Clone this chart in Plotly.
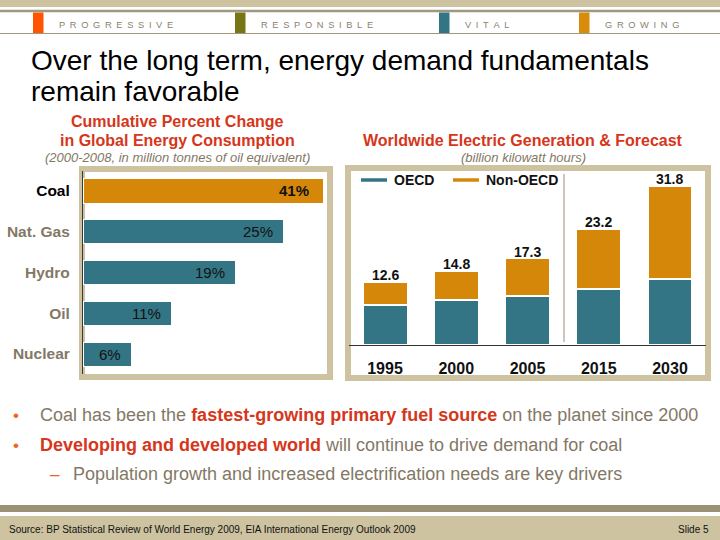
import plotly.graph_objects as go

# ---------------- data ----------------
fuels = ["Coal", "Nat. Gas", "Hydro", "Oil", "Nuclear"]
pct_change = [41, 25, 19, 11, 6]

years = ["1995", "2000", "2005", "2015", "2030"]
oecd = [8.0, 9.0, 9.8, 11.2, 13.2]
non_oecd = [4.6, 5.8, 7.5, 12.0, 18.6]
totals = [12.6, 14.8, 17.3, 23.2, 31.8]
series_names = ["OECD", "Non-OECD"]

header_words = ["PROGRESSIVE", "RESPONSIBLE", "VITAL", "GROWING"]

# ---------------- style ----------------
W, H = 720, 540
TAN = "#CDC3A0"
GRAYLINE = "#A0977F"
TEAL = "#337584"
ORANGE = "#D5870A"
RED = "#D6361A"
TXTGRAY = "#837865"
FONT = "Liberation Sans, Arial, sans-serif"
NARROW = "Liberation Sans Narrow, Arial Narrow, Liberation Sans, Arial, sans-serif"
header_colors = ["#FF5500", "#767619", "#337584", "#D98B0C"]
X_MAX = 30  # left axis is cut here; the Coal bar runs off the edge as in the original


def px(x):
    return x / W


def py(y):
    return 1 - y / H


fig = go.Figure()

# left chart: horizontal bars
bar_colors = [ORANGE] + [TEAL] * (len(fuels) - 1)
fig.add_trace(go.Bar(
    x=pct_change, y=fuels, orientation="h", width=0.59,
    marker=dict(color=bar_colors, line=dict(color="white", width=1)),
    xaxis="x", yaxis="y", showlegend=False, hoverinfo="skip",
))

# right chart: stacked bars
for name, vals, col in zip(series_names, [oecd, non_oecd], [TEAL, ORANGE]):
    fig.add_trace(go.Bar(
        x=years, y=vals, name=name, width=0.62,
        marker=dict(color=col, line=dict(color="white", width=1.2)),
        xaxis="x2", yaxis="y2", showlegend=False, hoverinfo="skip",
    ))

shapes = []
ann = []

# totals above stacks (category index positions on x2)
for i, t in enumerate(totals):
    ann.append(dict(xref="x2", yref="y2", x=i, y=t, xanchor="center", yanchor="bottom", yshift=-3,
                    text="<b>%.1f</b>" % t, showarrow=False,
                    font=dict(family=FONT, size=14, color="#111111")))

# percent labels inside the left bars (at bar end, or at the axis cut for Coal)
for i, (f, v) in enumerate(zip(fuels, pct_change)):
    lab = ("<b>%d%%</b>" % v) if i == 0 else ("%d%%" % v)
    ann.append(dict(xref="x", yref="y", x=min(v, X_MAX), y=i, xanchor="right", yanchor="middle",
                    xshift=-12 if i == 0 else -8, text=lab, showarrow=False,
                    font=dict(family=FONT, size=15, color="#111111")))

# header
shapes.append(dict(type="rect", xref="paper", yref="paper", x0=0, x1=1, y0=py(7), y1=py(0),
                   fillcolor=TAN, line=dict(width=0), layer="below"))
shapes.append(dict(type="line", xref="paper", yref="paper", x0=0, x1=1, y0=py(11), y1=py(11),
                   line=dict(color=GRAYLINE, width=2.5)))
shapes.append(dict(type="line", xref="paper", yref="paper", x0=0, x1=1, y0=py(33.5), y1=py(33.5),
                   line=dict(color=GRAYLINE, width=1.2)))
sq_x = [33, 235, 439, 579]
for word, col, sx in zip(header_words, header_colors, sq_x):
    shapes.append(dict(type="rect", xref="paper", yref="paper", x0=px(sx), x1=px(sx + 10.5),
                       y0=py(33), y1=py(12.5), fillcolor=col, line=dict(width=0)))
    ann.append(dict(xref="paper", yref="paper", x=px(sx + 24), y=py(24.5), xanchor="left", yanchor="middle",
                    text="\u2002".join(word), showarrow=False,
                    font=dict(family=FONT, size=9.3, color="#8A8170")))

# title
ann.append(dict(xref="paper", yref="paper", x=px(29), y=py(60), xanchor="left", yanchor="middle",
                text="Over the long term, energy demand fundamentals", showarrow=False,
                font=dict(family=FONT, size=28, color="#000000")))
ann.append(dict(xref="paper", yref="paper", x=px(29), y=py(91), xanchor="left", yanchor="middle",
                text="remain favorable", showarrow=False,
                font=dict(family=FONT, size=28, color="#000000")))

# chart titles
ann.append(dict(xref="paper", yref="paper", x=px(177), y=py(122), xanchor="center", yanchor="middle",
                text="<b>Cumulative Percent Change</b>", showarrow=False,
                font=dict(family=FONT, size=16, color=RED)))
ann.append(dict(xref="paper", yref="paper", x=px(177), y=py(141), xanchor="center", yanchor="middle",
                text="<b>in Global Energy Consumption</b>", showarrow=False,
                font=dict(family=FONT, size=16, color=RED)))
ann.append(dict(xref="paper", yref="paper", x=px(177), y=py(158), xanchor="center", yanchor="middle",
                text="<i>(2000-2008, in million tonnes of oil equivalent)</i>", showarrow=False,
                font=dict(family=FONT, size=13, color=TXTGRAY)))
ann.append(dict(xref="paper", yref="paper", x=px(523), y=py(141), xanchor="center", yanchor="middle",
                text="<b>Worldwide Electric Generation &amp; Forecast</b>", showarrow=False,
                font=dict(family=FONT, size=16, color=RED)))
ann.append(dict(xref="paper", yref="paper", x=px(523), y=py(158), xanchor="center", yanchor="middle",
                text="<i>(billion kilowatt hours)</i>", showarrow=False,
                font=dict(family=FONT, size=13, color=TXTGRAY)))

# chart frames
shapes.append(dict(type="rect", xref="paper", yref="paper", x0=px(82), x1=px(330), y0=py(377), y1=py(169),
                   line=dict(color=TAN, width=6), layer="below"))
shapes.append(dict(type="rect", xref="paper", yref="paper", x0=px(348), x1=px(708), y0=py(378), y1=py(168),
                   line=dict(color=TAN, width=6), layer="below"))

# separator between history and forecast
shapes.append(dict(type="line", xref="paper", yref="paper", x0=px(564), x1=px(564), y0=py(342), y1=py(174),
                   line=dict(color="#CFC8B8", width=2)))

# legend (right chart)
leg_x = [361, 453]
for name, col, lx in zip(series_names, [TEAL, ORANGE], leg_x):
    shapes.append(dict(type="line", xref="paper", yref="paper", x0=px(lx), x1=px(lx + 26), y0=py(180), y1=py(180),
                       line=dict(color=col, width=3.5)))
    ann.append(dict(xref="paper", yref="paper", x=px(lx + 31), y=py(180), xanchor="left", yanchor="middle",
                    text="<b>%s</b>" % name, showarrow=False,
                    font=dict(family=FONT, size=14, color="#111111")))

# bullets
BUL = "#F0641E"
ann.append(dict(xref="paper", yref="paper", x=px(11), y=py(415), xanchor="left", yanchor="middle",
                text="•", showarrow=False, font=dict(family=FONT, size=17, color=BUL)))
ann.append(dict(xref="paper", yref="paper", x=px(38), y=py(415), xanchor="left", yanchor="middle",
                text=("Coal has been the <span style='color:%s'><b>fastest-growing primary fuel source</b></span>"
                      " on the planet since 2000") % RED,
                showarrow=False, font=dict(family=FONT, size=18, color=TXTGRAY)))
ann.append(dict(xref="paper", yref="paper", x=px(11), y=py(445), xanchor="left", yanchor="middle",
                text="•", showarrow=False, font=dict(family=FONT, size=17, color=BUL)))
ann.append(dict(xref="paper", yref="paper", x=px(38), y=py(445), xanchor="left", yanchor="middle",
                text=("<span style='color:%s'><b>Developing and developed world</b></span>"
                      " will continue to drive demand for coal") % RED,
                showarrow=False, font=dict(family=FONT, size=18, color=TXTGRAY)))
ann.append(dict(xref="paper", yref="paper", x=px(48), y=py(474), xanchor="left", yanchor="middle",
                text="–", showarrow=False, font=dict(family=FONT, size=17, color=BUL)))
ann.append(dict(xref="paper", yref="paper", x=px(71), y=py(474), xanchor="left", yanchor="middle",
                text="Population growth and increased electrification needs are key drivers",
                showarrow=False, font=dict(family=FONT, size=18, color=TXTGRAY)))

# footer
shapes.append(dict(type="rect", xref="paper", yref="paper", x0=0, x1=1, y0=py(512), y1=py(505),
                   fillcolor="#9C9077", line=dict(width=0)))
shapes.append(dict(type="rect", xref="paper", yref="paper", x0=0, x1=1, y0=0, y1=py(516),
                   fillcolor=TAN, line=dict(width=0), layer="below"))
ann.append(dict(xref="paper", yref="paper", x=px(7), y=py(529), xanchor="left", yanchor="middle",
                text="Source: BP Statistical Review of World Energy 2009, EIA International Energy Outlook 2009",
                showarrow=False, font=dict(family=FONT, size=10, color="#111111")))
ann.append(dict(xref="paper", yref="paper", x=px(711), y=py(529), xanchor="right", yanchor="middle",
                text="Slide 5", showarrow=False, font=dict(family=FONT, size=10, color="#111111")))

tick_colors = ["#000000"] + [TXTGRAY] * (len(fuels) - 1)
tick_text = ["<span style='color:%s'><b>%s</b></span>" % (c, f) for c, f in zip(tick_colors, fuels)]

fig.update_layout(
    width=W, height=H, autosize=False,
    margin=dict(l=0, r=0, t=0, b=0, pad=0),
    paper_bgcolor="white", plot_bgcolor="rgba(0,0,0,0)",
    showlegend=False, barmode="stack",
    shapes=shapes, annotations=ann,
    xaxis=dict(domain=[px(83), px(323)], range=[0, X_MAX], anchor="y", automargin=False,
               showgrid=False, zeroline=False, showline=False, showticklabels=False, fixedrange=True),
    yaxis=dict(domain=[py(374.4), py(170.6)], anchor="x", autorange="reversed", automargin=False,
               type="category", tickmode="array", tickvals=fuels, ticktext=tick_text,
               showgrid=False, zeroline=False, showline=True, linecolor="#3A3A3A", linewidth=1.2,
               ticks="", ticklabelstandoff=9, tickfont=dict(family=FONT, size=15.5, color=TXTGRAY)),
    xaxis2=dict(domain=[px(349.4), px(705.6)], anchor="y2", type="category", automargin=False,
                range=[-0.5, len(years) - 0.5],
                showgrid=False, zeroline=False, showline=True, linecolor="#333333", linewidth=1.2,
                ticks="", ticklabelstandoff=9,
                tickfont=dict(family=NARROW, size=16, color="#111111", weight="bold")),
    yaxis2=dict(domain=[py(345), py(170)], anchor="x2", range=[0, 35], visible=False, automargin=False),
)

fig.write_html("out.html")
